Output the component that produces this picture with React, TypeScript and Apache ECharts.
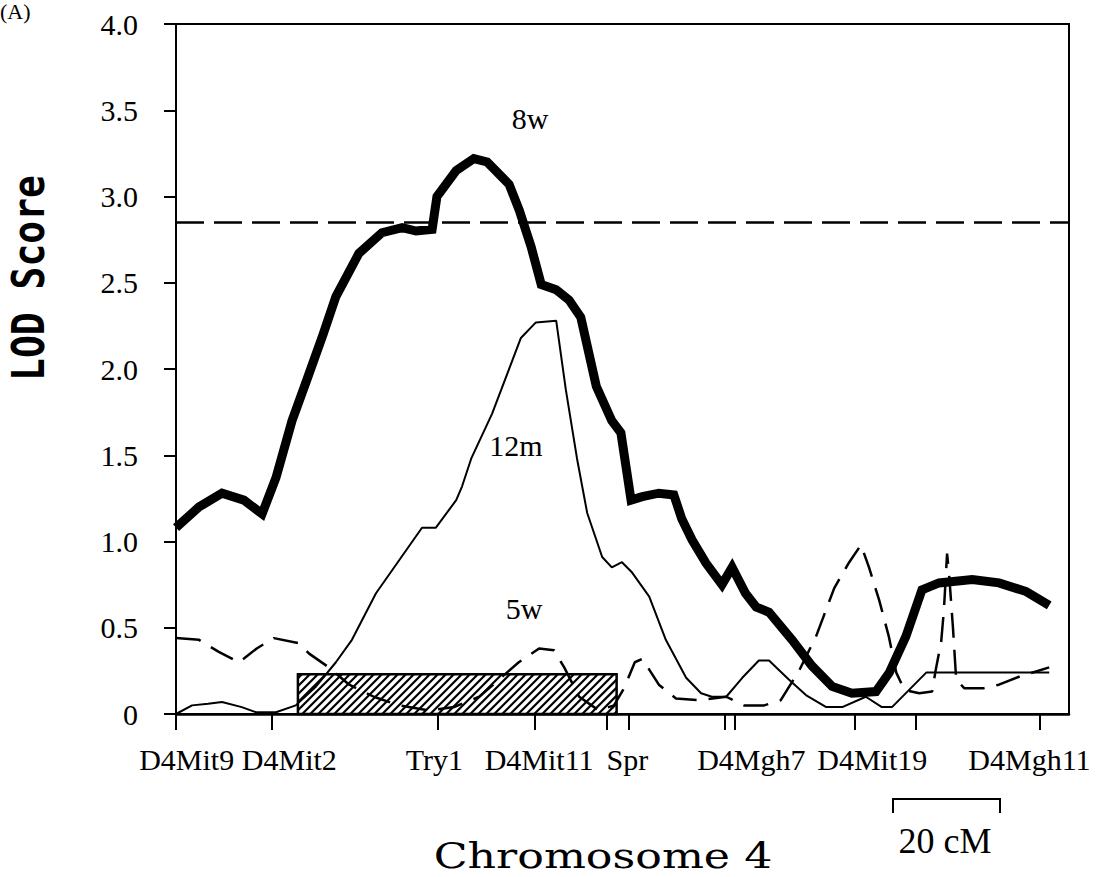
import React, { useEffect, useRef } from "react";
import * as echarts from "echarts";

// Marker map positions (cM from D4Mit9)
const markerTicks = [0, 17.95, 49.0, 67.1, 80.6, 84.7, 102.7, 104.4, 127.0, 138.4, 161.6];
const markerNames = ["D4Mit9", "D4Mit2", "Try1", "D4Mit11", "Spr", "D4Mgh7", "D4Mit19", "D4Mgh11"];
const markerLabelPos = [2.0, 21.2, 48.3, 67.9, 84.4, 107.6, 130.2, 159.6];

const yTicks = [0, 0.5, 1, 1.5, 2, 2.5, 3, 3.5, 4];
const threshold = 2.85;

// QTL interval: [start cM, end cM, height]
const qtlInterval = [[22.8, 82.4, 0.23]];

// LOD profiles [cM, LOD]
const lod8w = [
  [0, 1.08], [4.3, 1.2], [8.6, 1.28], [12.7, 1.24], [16.1, 1.16], [18.7, 1.37], [21.7, 1.7],
  [24.5, 1.94], [27.5, 2.2], [29.9, 2.42], [34.2, 2.67], [38.5, 2.79], [42.3, 2.82], [44.9, 2.8],
  [47.9, 2.81], [48.8, 3.0], [52.4, 3.15], [55.7, 3.22], [58.2, 3.2], [62.3, 3.07], [64.2, 2.92],
  [66.4, 2.71], [68.3, 2.49], [71.1, 2.46], [73.5, 2.4], [75.7, 2.3], [78.6, 1.9], [81.5, 1.7],
  [83.2, 1.63], [85.1, 1.24], [87.2, 1.26], [90.3, 1.28], [93.1, 1.27], [94.6, 1.13], [96.5, 1.01],
  [99.1, 0.875], [102.1, 0.75], [104.0, 0.85], [106.5, 0.7], [108.5, 0.62], [110.9, 0.59],
  [115.2, 0.43], [118.9, 0.28], [122.7, 0.16], [126.4, 0.12], [130.9, 0.13], [133.4, 0.24],
  [136.5, 0.45], [139.5, 0.72], [142.7, 0.76], [148.9, 0.78], [153.9, 0.76], [159.0, 0.71],
  [163.3, 0.63],
];

const lod12m = [
  [0, 0.0], [3.0, 0.05], [6.0, 0.06], [8.6, 0.07], [12.3, 0.04], [15.0, 0.01], [18.7, 0.01],
  [22.4, 0.05], [26.2, 0.16], [29.9, 0.3], [32.9, 0.43], [37.4, 0.7], [41.7, 0.89], [46.0, 1.08],
  [48.6, 1.08], [52.4, 1.24], [53.5, 1.32], [55.2, 1.48], [59.1, 1.74], [64.5, 2.18], [67.3, 2.27],
  [71.1, 2.28], [72.9, 1.88], [75.0, 1.48], [76.9, 1.165], [79.7, 0.91], [81.5, 0.85], [83.4, 0.88],
  [85.3, 0.82], [88.5, 0.68], [91.6, 0.43], [95.4, 0.21], [98.2, 0.12], [100.2, 0.1], [102.9, 0.1],
  [105.9, 0.21], [109.0, 0.31], [110.9, 0.31], [114.6, 0.2], [117.8, 0.11], [121.6, 0.04],
  [124.6, 0.04], [129.0, 0.1], [132.0, 0.04], [133.9, 0.04], [137.1, 0.14], [140.3, 0.24],
  [163.3, 0.24],
];

const lod5w = [
  [0, 0.44], [4.3, 0.43], [8.0, 0.36], [11.8, 0.3], [15.1, 0.38], [18.3, 0.44], [23.0, 0.41],
  [24.9, 0.35], [28.6, 0.27], [32.4, 0.17], [37.0, 0.1], [41.7, 0.05], [47.3, 0.02], [52.0, 0.04],
  [56.7, 0.1], [60.4, 0.2], [64.1, 0.3], [67.9, 0.38], [70.7, 0.37], [72.6, 0.27], [75.4, 0.1],
  [79.1, 0.02], [81.9, 0.05], [83.8, 0.15], [85.8, 0.3], [87.2, 0.32], [90.3, 0.17], [93.5, 0.09],
  [97.8, 0.08], [102.9, 0.1], [106.2, 0.05], [110.0, 0.05], [113.1, 0.08], [116.5, 0.25],
  [119.7, 0.45], [123.1, 0.73], [125.9, 0.88], [128.1, 0.98], [129.6, 0.85], [131.5, 0.66],
  [133.3, 0.45], [134.7, 0.24], [136.2, 0.14], [139.0, 0.12], [141.4, 0.13], [142.1, 0.26],
  [143.1, 0.42], [143.6, 0.6], [144.2, 0.93], [144.6, 0.8], [145.3, 0.5], [145.9, 0.2],
  [147.4, 0.15], [151.1, 0.15], [153.9, 0.17], [158.0, 0.22], [163.3, 0.27],
];

const serif = "'Liberation Serif', 'Times New Roman', serif";

export default function App() {
  const ref = useRef<HTMLDivElement>(null);
  useEffect(() => {
    if (!ref.current) return;
    const chart = echarts.init(ref.current, null, { renderer: "svg" });
    const option: any = {
      animation: false,
      backgroundColor: "#fff",
      grid: {
        left: 176,
        top: 24,
        width: 893,
        height: 690,
        show: true,
        borderColor: "#000",
        borderWidth: 2,
        backgroundColor: "transparent",
        containLabel: false,
        outerBoundsMode: "none",
      },
      xAxis: {
        type: "value",
        min: 0,
        max: 167,
        splitLine: { show: false },
        axisLine: { show: true, lineStyle: { color: "#000", width: 2.5 } },
        axisTick: {
          show: true,
          inside: false,
          length: 16,
          customValues: markerTicks,
          lineStyle: { color: "#000", width: 2 },
        },
        axisLabel: {
          show: true,
          customValues: markerLabelPos,
          margin: 30,
          color: "#000",
          fontFamily: serif,
          fontSize: 30,
          formatter: (v: number) => {
            let best = 0;
            for (let i = 0; i < markerLabelPos.length; i++) {
              if (Math.abs(markerLabelPos[i] - v) < Math.abs(markerLabelPos[best] - v)) best = i;
            }
            return markerNames[best];
          },
        },
      },
      yAxis: {
        type: "value",
        min: 0,
        max: 4,
        interval: 0.5,
        splitLine: { show: false },
        axisLine: { show: true, lineStyle: { color: "#000", width: 2 } },
        axisTick: { show: true, inside: false, length: 12, lineStyle: { color: "#000", width: 2 } },
        axisLabel: {
          color: "#000",
          fontFamily: serif,
          fontSize: 30,
          margin: 38,
          formatter: (v: number) => (v === 0 ? "0" : v.toFixed(1)),
        },
      },
      series: [
        {
          type: "custom",
          name: "QTL",
          z: 1,
          silent: true,
          data: qtlInterval,
          encode: { x: [0, 1], y: 2 },
          renderItem: (params: any, api: any) => {
            const x0 = api.value(0);
            const x1 = api.value(1);
            const h = api.value(2);
            const tl = api.coord([x0, h]);
            const br = api.coord([x1, 0]);
            const X0 = tl[0], Y0 = tl[1], X1 = br[0], Y1 = br[1];
            const children: any[] = [];
            const step = 8;
            for (let c = X0 + Y0 + step / 2; c < X1 + Y1; c += step) {
              const xa = Math.max(X0, c - Y1);
              const xb = Math.min(X1, c - Y0);
              if (xb <= xa) continue;
              children.push({
                type: "line",
                shape: { x1: xa, y1: c - xa, x2: xb, y2: c - xb },
                style: { stroke: "#000", lineWidth: 2.2 },
              });
            }
            children.push({
              type: "rect",
              shape: { x: X0, y: Y0, width: X1 - X0, height: Y1 - Y0 },
              style: { fill: "none", stroke: "#000", lineWidth: 2.5 },
            });
            return { type: "group", children };
          },
        },
        {
          type: "line",
          name: "5w",
          data: lod5w,
          showSymbol: false,
          z: 3,
          lineStyle: { color: "#000", width: 2.5, type: [25, 12] },
        },
        {
          type: "line",
          name: "12m",
          data: lod12m,
          showSymbol: false,
          z: 4,
          lineStyle: { color: "#000", width: 2 },
        },
        {
          type: "line",
          name: "8w",
          data: lod8w,
          showSymbol: false,
          z: 5,
          lineStyle: { color: "#000", width: 9, join: "miter", cap: "butt" },
          markLine: {
            silent: true,
            symbol: ["none", "none"],
            label: { show: false },
            lineStyle: { color: "#000", width: 2.5, type: [28, 10] },
            data: [{ yAxis: threshold }],
          },
        },
      ],
      graphic: [
        {
          type: "text",
          x: 0,
          y: 11,
          style: { text: "(A)", font: `22px ${serif}`, fill: "#000", verticalAlign: "middle" },
        },
        {
          type: "text",
          x: 29,
          y: 278,
          rotation: Math.PI / 2,
          scaleY: 1.15,
          style: {
            text: "LOD Score",
            font: "bold 38px 'DejaVu Sans Mono', monospace",
            fill: "#000",
            align: "center",
            verticalAlign: "middle",
          },
        },
        {
          type: "text",
          x: 530,
          y: 118,
          style: { text: "8w", font: `30px ${serif}`, fill: "#000", align: "center", verticalAlign: "middle" },
        },
        {
          type: "text",
          x: 516,
          y: 445,
          style: { text: "12m", font: `30px ${serif}`, fill: "#000", align: "center", verticalAlign: "middle" },
        },
        {
          type: "text",
          x: 524,
          y: 608,
          style: { text: "5w", font: `30px ${serif}`, fill: "#000", align: "center", verticalAlign: "middle" },
        },
        {
          type: "polyline",
          shape: { points: [[893, 813], [893, 799], [1000, 799], [1000, 813]] },
          style: { stroke: "#000", lineWidth: 2, fill: "none" },
        },
        {
          type: "text",
          x: 945,
          y: 841,
          style: { text: "20 cM", font: `36px ${serif}`, fill: "#000", align: "center", verticalAlign: "middle" },
        },
        {
          type: "text",
          x: 603,
          y: 856,
          scaleX: 1.23,
          style: {
            text: "Chromosome 4",
            font: "36px 'DejaVu Serif', serif",
            fill: "#000",
            align: "center",
            verticalAlign: "middle",
          },
        },
      ],
    };
    chart.setOption(option);
    return () => chart.dispose();
  }, []);
  return (
    <div
      ref={ref}
      style={{ position: "fixed", left: 0, top: 0, width: 1106, height: 877, background: "#fff" }}
    />
  );
}
